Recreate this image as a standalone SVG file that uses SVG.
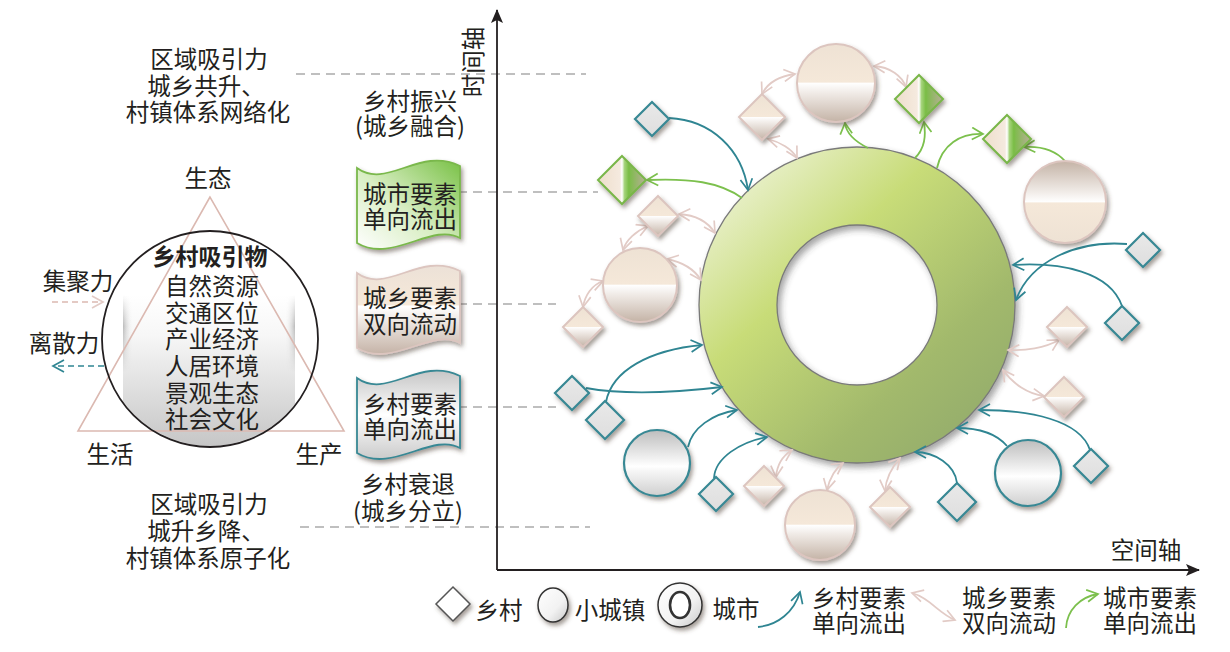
<svg xmlns="http://www.w3.org/2000/svg" width="1230" height="652" viewBox="0 0 1230 652">
<style>
text{font-family:"Noto Sans CJK SC","Liberation Sans",sans-serif;font-size:23.5px;fill:#231f20;text-anchor:middle;dominant-baseline:central}
.b{font-weight:bold;font-size:23px}
.dash{fill:none;stroke:#aaaaaa;stroke-width:1.6;stroke-dasharray:9,6}
.ax{stroke:#231f20;stroke-width:1.8;fill:none}
.bd{fill:url(#gBeige);stroke:#dcc5bf;stroke-width:2}
.bc{fill:url(#gBeige);stroke:#dcc5bf;stroke-width:2}
.bci{fill:url(#gBeigeInv);stroke:#dcc5bf;stroke-width:2}
.td{fill:url(#gTealD);stroke:#378894;stroke-width:2.2}
.tc{fill:url(#gTealC);stroke:#378894;stroke-width:2.2}
.gd{fill:url(#gGreenD);stroke:#79b648;stroke-width:2}
.ct{fill:none;stroke:#2f8592;stroke-width:1.8}
.cg{fill:none;stroke:#7cc04d;stroke-width:1.8}
.cp{fill:none;stroke:#e2cbc6;stroke-width:1.8}
</style>
<defs>
<filter id="sh" x="-30%" y="-30%" width="170%" height="170%"><feDropShadow dx="2" dy="3" stdDeviation="2" flood-color="#4a3a30" flood-opacity="0.5"/></filter>
<filter id="shR" x="-20%" y="-20%" width="150%" height="150%"><feDropShadow dx="3" dy="4" stdDeviation="3" flood-color="#3a3a3a" flood-opacity="0.45"/></filter>
<linearGradient id="gBeige" x1="0" y1="0" x2="0" y2="1">
<stop offset="0" stop-color="#eee2d4"/><stop offset="0.49" stop-color="#f5e8d9"/><stop offset="0.5" stop-color="#ffffff"/><stop offset="0.62" stop-color="#f1ece8"/><stop offset="1" stop-color="#c4b3a6"/>
</linearGradient>
<linearGradient id="gBeigeInv" x1="0" y1="1" x2="0" y2="0">
<stop offset="0" stop-color="#eee2d4"/><stop offset="0.49" stop-color="#f5e8d9"/><stop offset="0.5" stop-color="#ffffff"/><stop offset="0.62" stop-color="#f1ece8"/><stop offset="1" stop-color="#c4b3a6"/>
</linearGradient>
<linearGradient id="gTealD" x1="0" y1="0" x2="0" y2="1">
<stop offset="0" stop-color="#e9e9e9"/><stop offset="1" stop-color="#dedede"/>
</linearGradient>
<linearGradient id="gTealC" x1="0" y1="0" x2="0" y2="1">
<stop offset="0" stop-color="#bdbdbd"/><stop offset="0.55" stop-color="#ffffff"/><stop offset="0.62" stop-color="#f6f6f6"/><stop offset="1" stop-color="#cfcfcf"/>
</linearGradient>
<linearGradient id="gGreenD" x1="0" y1="0" x2="1" y2="0">
<stop offset="0" stop-color="#eedecb"/><stop offset="0.46" stop-color="#f5eadf"/><stop offset="0.5" stop-color="#ffffff"/><stop offset="0.55" stop-color="#a6d47c"/><stop offset="0.64" stop-color="#7abd46"/><stop offset="1" stop-color="#bbad9c"/>
</linearGradient>
<linearGradient id="gRing" gradientUnits="userSpaceOnUse" x1="720" y1="160" x2="1000" y2="460">
<stop offset="0" stop-color="#f1f5df"/><stop offset="0.35" stop-color="#c8dc78"/><stop offset="0.7" stop-color="#a2b96c"/><stop offset="1" stop-color="#8fa86c"/>
</linearGradient>
<linearGradient id="gBanG" x1="0" y1="1" x2="1" y2="0">
<stop offset="0" stop-color="#ffffff"/><stop offset="0.45" stop-color="#d9eec4"/><stop offset="1" stop-color="#79c146"/>
</linearGradient>
<linearGradient id="gBanB" x1="0" y1="0" x2="0" y2="1">
<stop offset="0" stop-color="#ece1d7"/><stop offset="0.44" stop-color="#f6e9d9"/><stop offset="0.46" stop-color="#ffffff"/><stop offset="0.58" stop-color="#f3eeea"/><stop offset="1" stop-color="#c5b3a7"/>
</linearGradient>
<linearGradient id="gBanT" x1="0" y1="0" x2="0" y2="1">
<stop offset="0" stop-color="#c6c6c6"/><stop offset="0.5" stop-color="#ffffff"/><stop offset="0.6" stop-color="#f4f4f4"/><stop offset="1" stop-color="#cbcbcb"/>
</linearGradient>
<linearGradient id="gLeg" x1="0" y1="0" x2="1" y2="1">
<stop offset="0" stop-color="#ffffff"/><stop offset="0.6" stop-color="#f2f2f2"/><stop offset="1" stop-color="#c8c8c8"/>
</linearGradient>
<linearGradient id="gCyl" x1="0" y1="0" x2="0" y2="1">
<stop offset="0" stop-color="#ffffff"/><stop offset="0.25" stop-color="#f7f7f7"/><stop offset="1" stop-color="#c2c2c2"/>
</linearGradient>
<linearGradient id="gSide" x1="0" y1="0" x2="1" y2="0">
<stop offset="0" stop-color="#6e6e6e" stop-opacity="0.45"/><stop offset="0.06" stop-color="#ffffff" stop-opacity="0"/><stop offset="0.94" stop-color="#ffffff" stop-opacity="0"/><stop offset="1" stop-color="#6e6e6e" stop-opacity="0.45"/>
</linearGradient>
<linearGradient id="gFade" x1="0" y1="0" x2="0" y2="1">
<stop offset="0" stop-color="#fff" stop-opacity="0"/><stop offset="0.2" stop-color="#fff" stop-opacity="1"/><stop offset="0.5" stop-color="#fff" stop-opacity="0"/>
</linearGradient>
<mask id="mFade"><rect x="123" y="295" width="172" height="155" fill="url(#gFade)"/></mask>
<clipPath id="cc"><circle cx="210" cy="339" r="107"/></clipPath>
<marker id="aT" viewBox="0 0 14 14" refX="12" refY="7" markerWidth="14" markerHeight="14" markerUnits="userSpaceOnUse" orient="auto-start-reverse"><path d="M1,1 L12,7 L1,13" fill="none" stroke="#2f8592" stroke-width="1.7"/></marker>
<marker id="aG" viewBox="0 0 14 14" refX="12" refY="7" markerWidth="14" markerHeight="14" markerUnits="userSpaceOnUse" orient="auto-start-reverse"><path d="M1,1 L12,7 L1,13" fill="none" stroke="#7cc04d" stroke-width="1.7"/></marker>
<marker id="aP" viewBox="0 0 14 14" refX="12" refY="7" markerWidth="14" markerHeight="14" markerUnits="userSpaceOnUse" orient="auto-start-reverse"><path d="M1,1 L12,7 L1,13" fill="none" stroke="#e2cbc6" stroke-width="1.7"/></marker>
<marker id="aK" viewBox="0 0 14 14" refX="13" refY="7" markerWidth="14" markerHeight="14" markerUnits="userSpaceOnUse" orient="auto"><path d="M0,1 L14,7 L0,13 L3,7 Z" fill="#231f20"/></marker>
</defs>
<rect width="1230" height="652" fill="#ffffff"/>

<g id="guides">
<line class="dash" x1="296" y1="74" x2="586" y2="74"/>
<line class="dash" x1="458" y1="192" x2="598" y2="192"/>
<line class="dash" x1="458" y1="304" x2="556" y2="304"/>
<line class="dash" x1="458" y1="407" x2="556" y2="407"/>
<line class="dash" x1="300" y1="527" x2="590" y2="527"/>
</g>

<g id="axes">
<line class="ax" x1="497" y1="570" x2="497" y2="10" marker-end="url(#aK)"/>
<line class="ax" x1="497" y1="570" x2="1199" y2="570" marker-end="url(#aK)"/>
<text x="472" y="62" transform="rotate(-90 472 62)">时间轴</text>
<text x="1146" y="549">空间轴</text>
</g>

<g id="attraction">
<g clip-path="url(#cc)">
<rect x="123" y="295" width="172" height="160" fill="url(#gCyl)"/>
<rect x="123" y="295" width="172" height="160" fill="url(#gSide)" mask="url(#mFade)"/>
</g>
<polygon points="210,197 78,431 344,431" fill="none" stroke="#dbb9b1" stroke-width="1.6"/>
<circle cx="210" cy="339" r="108" fill="none" stroke="#231f20" stroke-width="1.8"/>
<text x="208" y="177">生态</text>
<text x="110" y="453">生活</text>
<text x="319" y="453">生产</text>
<text class="b" x="210" y="255">乡村吸引物</text>
<text x="212" y="285">自然资源</text>
<text x="212" y="312">交通区位</text>
<text x="212" y="338">产业经济</text>
<text x="212" y="365">人居环境</text>
<text x="212" y="392">景观生态</text>
<text x="212" y="418">社会文化</text>
<text x="78" y="280">集聚力</text>
<text x="64" y="342">离散力</text>
<path d="M52,302 L103,302" fill="none" stroke="#dbb9b1" stroke-width="1.6" stroke-dasharray="6,4" marker-end="url(#aP)"/>
<path d="M104,366 L53,366" fill="none" stroke="#2f8592" stroke-width="1.6" stroke-dasharray="6,4" marker-end="url(#aT)"/>
</g>

<g id="stage-labels">
<text x="209" y="58">区域吸引力</text>
<text x="206" y="85">城乡共升、</text>
<text x="208" y="111">村镇体系网络化</text>
<text x="410" y="100">乡村振兴</text>
<text x="410" y="125">(城乡融合)</text>
<text x="408" y="483">乡村衰退</text>
<text x="408" y="510">(城乡分立)</text>
<text x="209" y="503">区域吸引力</text>
<text x="206" y="530">城升乡降、</text>
<text x="208" y="557">村镇体系原子化</text>
</g>

<g id="banner-city" transform="translate(357,160)">
<path d="M0,8 C30,30 62,-14 103,6 L103,78 C75,62 35,104 0,83 Z" fill="url(#gBanG)" stroke="#7ab84c" stroke-width="1.8" filter="url(#sh)"/>
<text x="53" y="33">城市要素</text>
<text x="53" y="58">单向流出</text>
</g>
<g id="banner-both" transform="translate(357,265)">
<path d="M0,8 C30,30 62,-14 103,6 L103,78 C75,62 35,104 0,83 Z" fill="url(#gBanB)" stroke="#dcc5bf" stroke-width="1.8" filter="url(#sh)"/>
<text x="53" y="32">城乡要素</text>
<text x="53" y="58">双向流动</text>
</g>
<g id="banner-rural" transform="translate(357,370)">
<path d="M0,8 C30,30 62,-14 103,6 L103,78 C75,62 35,104 0,83 Z" fill="url(#gBanT)" stroke="#378894" stroke-width="1.8" filter="url(#sh)"/>
<text x="53" y="33">乡村要素</text>
<text x="53" y="58">单向流出</text>
</g>

<g id="city">
<path d="M699,305 a158,158 0 1,0 316,0 a158,158 0 1,0 -316,0 Z M777,305 a80,80 0 1,0 160,0 a80,80 0 1,0 -160,0 Z" fill="url(#gRing)" fill-rule="evenodd" stroke="#7a7a7a" stroke-width="1.3" filter="url(#shR)"/>
</g>

<g id="connectors">
<path class="ct" d="M669,118 C712,120 742,150 748,190" marker-end="url(#aT)"/>
<path class="ct" d="M1127,244 C1075,240 1030,262 1016,300" marker-end="url(#aT)"/>
<path class="ct" d="M1122,306 C1110,272 1062,262 1013,265" marker-end="url(#aT)"/>
<path class="ct" d="M1090,450 C1080,420 1030,410 979,410" marker-end="url(#aT)"/>
<path class="ct" d="M1007,446 C995,432 975,428 957,428" marker-end="url(#aT)"/>
<path class="ct" d="M957,483 C955,465 935,452 915,452" marker-end="url(#aT)"/>
<path class="ct" d="M586,388 C630,396 680,392 722,387" marker-end="url(#aT)"/>
<path class="ct" d="M606,402 C612,370 650,350 702,345" marker-end="url(#aT)"/>
<path class="ct" d="M688,447 C692,428 712,414 737,410" marker-end="url(#aT)"/>
<path class="ct" d="M714,478 C715,458 740,442 767,437" marker-end="url(#aT)"/>

<path class="cg" d="M742,198 C720,182 690,178 647,180" marker-end="url(#aG)"/>
<path class="cg" d="M868,148 C852,140 846,132 845,123" marker-end="url(#aG)"/>
<path class="cg" d="M915,158 C925,148 926,136 924,122" marker-end="url(#aG)"/>
<path class="cg" d="M937,168 C942,145 960,133 983,134" marker-end="url(#aG)"/>
<path class="cg" d="M1065,161 C1055,150 1040,146 1024,147" marker-end="url(#aG)"/>

<path class="cp" d="M762,94 C768,82 780,76 795,74" marker-start="url(#aP)" marker-end="url(#aP)"/>
<path class="cp" d="M768,139 C780,142 792,149 797,158" marker-start="url(#aP)" marker-end="url(#aP)"/>
<path class="cp" d="M874,66 C890,67 902,76 906,87" marker-start="url(#aP)" marker-end="url(#aP)"/>
<path class="cp" d="M679,214 C695,215 708,222 715,233" marker-start="url(#aP)" marker-end="url(#aP)"/>
<path class="cp" d="M648,226 C636,231 626,240 623,250" marker-start="url(#aP)" marker-end="url(#aP)"/>
<path class="cp" d="M667,259 C682,262 694,269 701,280" marker-start="url(#aP)" marker-end="url(#aP)"/>
<path class="cp" d="M583,307 C585,295 592,285 603,281" marker-start="url(#aP)" marker-end="url(#aP)"/>
<path class="cp" d="M1008,350 C1025,351 1045,348 1059,340" marker-start="url(#aP)" marker-end="url(#aP)"/>
<path class="cp" d="M1003,370 C1013,384 1028,394 1044,396" marker-start="url(#aP)" marker-end="url(#aP)"/>
<path class="cp" d="M885,491 C886,477 893,466 900,458" marker-start="url(#aP)" marker-end="url(#aP)"/>
<path class="cp" d="M776,477 C777,464 784,455 792,450" marker-start="url(#aP)" marker-end="url(#aP)"/>
<path class="cp" d="M827,490 C830,477 836,468 843,463" marker-start="url(#aP)" marker-end="url(#aP)"/>
</g>

<g id="town-top"><circle class="bc" cx="836" cy="83" r="39" filter="url(#sh)"/></g>
<g id="town-left"><circle class="bc" cx="640" cy="285" r="37" filter="url(#sh)"/></g>
<g id="town-bottom"><circle class="bc" cx="820" cy="525" r="35" filter="url(#sh)"/></g>
<g id="town-right"><circle class="bci" cx="1065" cy="202" r="41" filter="url(#sh)"/></g>
<g id="town-teal-left"><circle class="tc" cx="657" cy="463" r="33" filter="url(#sh)"/></g>
<g id="town-teal-right"><circle class="tc" cx="1028" cy="473" r="33" filter="url(#sh)"/></g>

<g id="v-b1"><polygon class="bd" points="762,94 785,117 762,140 739,117" filter="url(#sh)"/></g>
<g id="v-b2"><polygon class="bd" points="658,196 678,216 658,236 638,216" filter="url(#sh)"/></g>
<g id="v-b3"><polygon class="bd" points="583,307 603,327 583,347 563,327" filter="url(#sh)"/></g>
<g id="v-b4"><polygon class="bd" points="1067,307 1087,327 1067,347 1047,327" filter="url(#sh)"/></g>
<g id="v-b5"><polygon class="bd" points="1064,377 1084,397 1064,417 1044,397" filter="url(#sh)"/></g>
<g id="v-b6"><polygon class="bd" points="890,487 910,507 890,527 870,507" filter="url(#sh)"/></g>
<g id="v-b7"><polygon class="bd" points="764,466 784,486 764,506 744,486" filter="url(#sh)"/></g>

<g id="v-t1"><polygon class="td" points="652,102 669,119 652,136 635,119" filter="url(#sh)"/></g>
<g id="v-t2"><polygon class="td" points="1143,233 1160,250 1143,267 1126,250" filter="url(#sh)"/></g>
<g id="v-t3"><polygon class="td" points="1122,306 1139,323 1122,340 1105,323" filter="url(#sh)"/></g>
<g id="v-t4"><polygon class="td" points="1091,449 1108,466 1091,483 1074,466" filter="url(#sh)"/></g>
<g id="v-t5"><polygon class="td" points="957,483 976,502 957,521 938,502" filter="url(#sh)"/></g>
<g id="v-t6"><polygon class="td" points="572,376 589,393 572,410 555,393" filter="url(#sh)"/></g>
<g id="v-t7"><polygon class="td" points="605,401 624,420 605,439 586,420" filter="url(#sh)"/></g>
<g id="v-t8"><polygon class="td" points="716,477 733,494 716,511 699,494" filter="url(#sh)"/></g>

<g id="v-g1"><polygon class="gd" points="622,156 646,180 622,204 598,180" filter="url(#sh)"/></g>
<g id="v-g2"><polygon class="gd" points="919,75 943,99 919,123 895,99" filter="url(#sh)"/></g>
<g id="v-g3"><polygon class="gd" points="1007,115 1031,139 1007,163 983,139" filter="url(#sh)"/></g>

<g id="legend">
<polygon points="453,587 470,604 453,621 436,604" fill="#ffffff" stroke="#555555" stroke-width="1.5" filter="url(#sh)"/>
<text x="499" y="609">乡村</text>
<ellipse cx="553" cy="605" rx="15" ry="17" fill="url(#gLeg)" stroke="#333333" stroke-width="1.5" filter="url(#sh)"/>
<text x="610" y="609">小城镇</text>
<ellipse cx="680" cy="605" rx="22" ry="22" fill="url(#gLeg)" stroke="#333333" stroke-width="1.5" filter="url(#sh)"/>
<ellipse cx="680" cy="605" rx="10" ry="13" fill="#ffffff" stroke="#333333" stroke-width="2.6"/>
<text x="736" y="608">城市</text>
<path class="ct" d="M758,627 C778,625 794,612 800,592" marker-end="url(#aT)"/>
<text x="859" y="597">乡村要素</text>
<text x="859" y="622">单向流出</text>
<path class="cp" d="M912,593 C930,598 938,613 955,620" marker-start="url(#aP)" marker-end="url(#aP)"/>
<text x="1009" y="597">城乡要素</text>
<text x="1009" y="622">双向流动</text>
<path class="cg" d="M1066,628 C1067,610 1080,597 1098,594" marker-end="url(#aG)"/>
<text x="1150" y="597">城市要素</text>
<text x="1150" y="622">单向流出</text>
</g>
</svg>
